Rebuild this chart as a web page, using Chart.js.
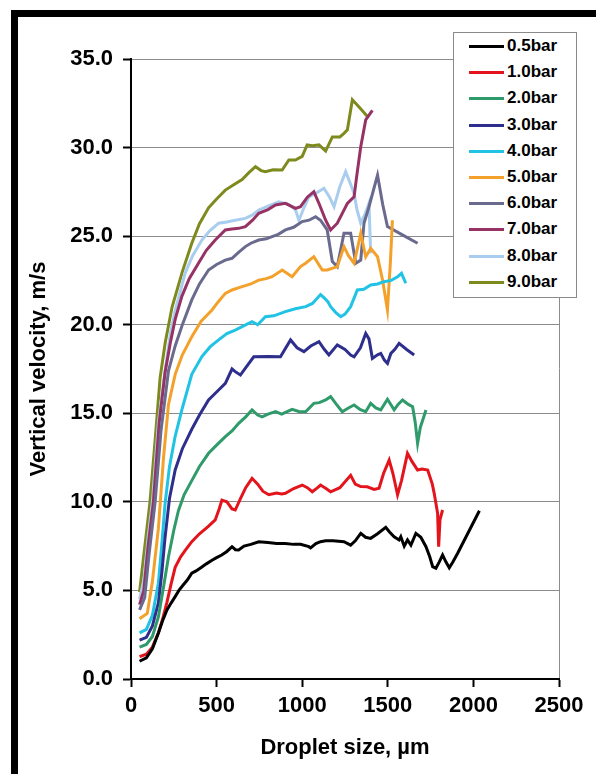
<!DOCTYPE html>
<html>
<head>
<meta charset="utf-8">
<script src="https://cdn.jsdelivr.net/npm/chart.js@4.4.1/dist/chart.umd.min.js"></script>
<style>
  html, body { margin: 0; padding: 0; background: #fff; width: 596px; height: 774px; overflow: hidden; }
  #frame { position: absolute; left: 11px; top: 10px; width: 700px; height: 900px; border: 7px solid #000; box-sizing: border-box; }
  #chart { position: absolute; left: 0; top: 0; z-index: 1; }
  #legend { position: absolute; left: 453px; top: 32px; width: 124px; height: 266px; box-sizing: border-box;
            border: 1px solid #8a8a8a; background: #fff; z-index: 2;
            font: bold 17px "Liberation Sans", Arial, sans-serif; color: #000; }
  .row { position: absolute; left: 0; height: 20px; line-height: 20px; }
  .sw { position: absolute; left: 15px; top: 9px; width: 35px; height: 3px; }
  .tx { position: absolute; left: 53px; top: 0; white-space: nowrap; }
</style>
</head>
<body>
<div id="frame"></div>
<canvas id="chart" width="596" height="774"></canvas>
<div id="legend"></div>
<script>
// Pressure levels shown in the legend
const labels = ['0.5bar', '1.0bar', '2.0bar', '3.0bar', '4.0bar', '5.0bar', '6.0bar', '7.0bar', '8.0bar', '9.0bar'];
const colors = ['#000000', '#e3141c', '#2f9a6a', '#2e2f8c', '#21c3e4', '#f3a12b', '#696a8e', '#963264', '#a9cdef', '#7e8a1e'];

// Axis ticks
const xTicks = [0, 500, 1000, 1500, 2000, 2500];
const yTicks = [0, 5, 10, 15, 20, 25, 30, 35];

// Droplet size (µm) and vertical velocity (m/s) for each pressure
const size05 = [50, 90, 125, 160, 185, 210, 235, 258, 280, 300, 330, 355, 380, 410, 440, 473, 500, 530, 560, 590, 610, 629, 660, 700, 746, 800, 850, 900, 950, 990, 1039, 1049, 1080, 1107, 1137, 1180, 1244, 1283, 1310, 1342, 1370, 1400, 1440, 1488, 1510, 1537, 1566, 1576, 1596, 1615, 1635, 1664, 1693, 1723, 1745, 1762, 1781, 1800, 1820, 1840, 1859, 1880, 1908, 2035];
const vel05  = [1.0, 1.2, 1.7, 2.6, 3.3, 3.9, 4.3, 4.65, 5.0, 5.25, 5.6, 5.97, 6.1, 6.3, 6.5, 6.7, 6.85, 7.0, 7.2, 7.47, 7.3, 7.28, 7.5, 7.6, 7.75, 7.7, 7.65, 7.65, 7.6, 7.6, 7.47, 7.4, 7.65, 7.75, 7.8, 7.8, 7.75, 7.56, 7.8, 8.22, 8.0, 7.94, 8.2, 8.56, 8.3, 8.03, 7.85, 8.03, 7.5, 7.85, 7.56, 8.22, 8.0, 7.47, 6.9, 6.34, 6.25, 6.6, 7.0, 6.6, 6.28, 6.6, 7.1, 9.5];

const size10 = [50, 90, 125, 160, 185, 209, 235, 258, 290, 320, 355, 400, 450, 492, 515, 531, 560, 590, 609, 640, 670, 707, 740, 770, 805, 850, 880, 902, 950, 1000, 1030, 1059, 1090, 1107, 1137, 1166, 1220, 1283, 1310, 1342, 1380, 1420, 1449, 1475, 1508, 1530, 1557, 1580, 1615, 1640, 1674, 1700, 1733, 1760, 1771, 1791, 1797, 1805, 1820];
const vel10  = [1.26, 1.4, 1.8, 2.6, 3.4, 4.3, 5.4, 6.3, 6.9, 7.3, 7.75, 8.2, 8.6, 8.98, 9.6, 10.1, 10.0, 9.6, 9.54, 10.2, 10.8, 11.33, 11.0, 10.6, 10.4, 10.5, 10.45, 10.48, 10.75, 10.95, 10.8, 10.57, 10.8, 10.95, 10.77, 10.57, 10.8, 11.5, 11.0, 10.86, 10.85, 10.7, 10.77, 11.6, 12.36, 11.6, 10.4, 11.2, 12.74, 12.3, 11.8, 11.85, 11.8, 11.0, 10.48, 9.35, 7.47, 9.0, 9.54];

const size20 = [50, 90, 125, 160, 190, 219, 250, 277, 310, 355, 400, 453, 500, 551, 590, 629, 670, 707, 740, 766, 800, 844, 880, 941, 980, 1020, 1068, 1100, 1137, 1166, 1200, 1234, 1270, 1303, 1340, 1371, 1400, 1430, 1459, 1498, 1537, 1560, 1586, 1620, 1645, 1660, 1674, 1690, 1723];
const vel20  = [1.8, 1.95, 2.4, 3.5, 5.2, 6.9, 8.4, 9.5, 10.4, 11.2, 12.0, 12.74, 13.2, 13.68, 14.0, 14.43, 14.8, 15.19, 14.9, 14.8, 14.95, 15.09, 14.95, 15.22, 15.1, 15.09, 15.56, 15.6, 15.75, 15.94, 15.5, 15.09, 15.3, 15.47, 15.2, 15.09, 15.56, 15.3, 15.19, 15.79, 15.19, 15.5, 15.75, 15.5, 15.37, 14.5, 13.3, 14.2, 15.19];

const size30 = [50, 90, 125, 160, 180, 199, 225, 258, 300, 355, 400, 453, 500, 551, 590, 609, 639, 680, 717, 800, 873, 932, 970, 1010, 1050, 1098, 1130, 1156, 1205, 1250, 1283, 1303, 1340, 1371, 1390, 1410, 1440, 1459, 1480, 1498, 1518, 1540, 1566, 1610, 1654];
const vel30  = [2.2, 2.35, 3.0, 4.3, 6.0, 8.0, 10.2, 11.8, 13.0, 14.1, 14.9, 15.75, 16.2, 16.69, 17.5, 17.35, 17.16, 17.7, 18.19, 18.2, 18.19, 19.14, 18.7, 18.48, 18.8, 19.04, 18.6, 18.29, 18.86, 18.6, 18.29, 18.19, 18.7, 19.51, 19.2, 18.1, 18.3, 18.38, 18.0, 17.82, 18.38, 18.6, 18.95, 18.6, 18.29];

const size40 = [50, 90, 125, 160, 180, 199, 225, 258, 300, 355, 414, 463, 512, 560, 609, 649, 707, 740, 785, 834, 902, 960, 1020, 1060, 1107, 1130, 1150, 1166, 1195, 1225, 1250, 1283, 1322, 1360, 1400, 1440, 1478, 1520, 1557, 1580, 1605];
const vel40  = [2.6, 2.8, 3.6, 5.4, 7.6, 9.9, 12.0, 13.7, 15.3, 17.2, 18.2, 18.76, 19.14, 19.5, 19.7, 19.89, 20.17, 20.0, 20.45, 20.5, 20.74, 20.9, 21.02, 21.2, 21.7, 21.5, 21.3, 21.02, 20.7, 20.45, 20.6, 21.02, 21.96, 22.0, 22.24, 22.3, 22.43, 22.5, 22.7, 22.9, 22.34];

const size50 = [50, 95, 125, 160, 190, 219, 258, 300, 355, 410, 473, 510, 551, 590, 649, 700, 746, 790, 824, 883, 941, 990, 1020, 1068, 1117, 1146, 1205, 1244, 1270, 1303, 1342, 1371, 1400, 1440, 1470, 1498, 1515, 1527];
const vel50  = [3.4, 3.7, 5.5, 8.5, 12.5, 15.5, 17.2, 18.3, 19.32, 20.2, 20.83, 21.3, 21.77, 21.96, 22.15, 22.3, 22.52, 22.6, 22.71, 23.09, 22.71, 23.28, 23.47, 23.84, 23.09, 23.09, 23.28, 24.41, 23.9, 23.47, 25.16, 23.84, 24.31, 23.84, 22.5, 20.83, 23.5, 25.9];

const size60 = [50, 80, 105, 141, 175, 219, 258, 300, 355, 400, 453, 500, 551, 590, 630, 668, 700, 746, 790, 824, 860, 902, 950, 1000, 1040, 1078, 1107, 1146, 1176, 1205, 1244, 1283, 1313, 1342, 1361, 1390, 1440, 1470, 1498, 1580, 1674];
const vel60  = [3.9, 4.6, 7.0, 10.0, 14.0, 17.4, 18.8, 20.0, 21.4, 22.3, 23.09, 23.4, 23.65, 23.75, 24.1, 24.41, 24.6, 24.78, 24.85, 24.97, 25.1, 25.35, 25.5, 25.82, 25.9, 26.1, 25.9, 25.35, 23.56, 23.28, 25.16, 25.16, 23.47, 23.65, 25.73, 26.66, 28.45, 26.8, 25.54, 25.1, 24.6];

const size70 = [50, 75, 100, 131, 165, 199, 230, 258, 297, 340, 394, 440, 492, 551, 590, 629, 668, 710, 746, 800, 844, 902, 961, 990, 1030, 1068, 1100, 1137, 1166, 1205, 1264, 1303, 1320, 1342, 1371, 1410];
const vel70  = [4.2, 5.0, 7.5, 10.0, 14.5, 17.3, 19.0, 20.3, 21.6, 22.6, 23.47, 24.2, 24.78, 25.35, 25.4, 25.44, 25.54, 25.9, 26.29, 26.5, 26.76, 26.85, 26.57, 26.66, 27.2, 27.51, 26.8, 25.9, 25.35, 25.73, 26.85, 27.22, 28.5, 30.05, 31.56, 32.1];

const size80 = [50, 75, 100, 125, 160, 199, 230, 258, 316, 360, 414, 460, 512, 560, 609, 668, 710, 746, 800, 863, 920, 960, 981, 1010, 1039, 1078, 1127, 1160, 1186, 1220, 1254, 1280, 1303, 1320, 1342, 1370, 1390, 1400];
const vel80  = [4.5, 5.6, 8.0, 10.0, 14.5, 17.4, 19.5, 20.8, 22.9, 23.9, 24.78, 25.3, 25.73, 25.8, 25.9, 26.0, 26.2, 26.48, 26.7, 26.94, 26.8, 26.5, 25.9, 26.6, 27.22, 27.41, 27.7, 27.2, 26.66, 27.8, 28.64, 28.0, 27.41, 26.5, 25.73, 26.3, 26.85, 24.03];

const size90 = [50, 75, 111, 141, 170, 200, 240, 300, 355, 400, 453, 500, 551, 600, 649, 690, 727, 760, 785, 830, 883, 922, 960, 1000, 1029, 1060, 1098, 1137, 1176, 1220, 1244, 1264, 1293, 1340, 1381];
const vel90  = [4.9, 7.0, 10.0, 13.5, 17.0, 19.0, 21.0, 23.0, 24.6, 25.7, 26.6, 27.1, 27.6, 27.9, 28.2, 28.6, 28.92, 28.7, 28.64, 28.75, 28.73, 29.3, 29.3, 29.5, 30.15, 30.1, 30.15, 29.8, 30.6, 30.6, 30.8, 31.0, 32.7, 32.2, 31.75];

const sizes = [size05, size10, size20, size30, size40, size50, size60, size70, size80, size90];
const vels  = [vel05, vel10, vel20, vel30, vel40, vel50, vel60, vel70, vel80, vel90];

const datasets = labels.map((label, k) => ({
  label,
  data: sizes[k].map((x, i) => ({ x, y: vels[k][i] })),
  borderColor: colors[k],
  backgroundColor: colors[k],
  borderWidth: 3,
  pointRadius: 0,
  fill: false,
  tension: 0
}));

const tickFont = { family: '"Liberation Sans", Arial, sans-serif', size: 22, weight: 'bold' };

new Chart(document.getElementById('chart'), {
  type: 'line',
  data: { datasets },
  options: {
    responsive: false,
    animation: false,
    devicePixelRatio: 1,
    layout: { padding: { left: 22, top: 59, right: 37, bottom: 10 } },
    plugins: { legend: { display: false }, tooltip: { enabled: false } },
    scales: {
      x: {
        type: 'linear',
        min: xTicks[0],
        max: xTicks[xTicks.length - 1],
        afterBuildTicks: s => { s.ticks = xTicks.map(v => ({ value: v })); },
        afterFit: s => { s.height = 85; },
        ticks: { color: '#000', font: tickFont, padding: 6, maxRotation: 0, callback: v => String(v) },
        grid: {
          color: c => (c.tick && c.tick.value === 2500) ? '#8c8c8c' : 'rgba(0,0,0,0)',
          lineWidth: 1,
          tickColor: '#000',
          tickLength: 8,
          tickWidth: 2
        },
        border: { color: '#000', width: 2 },
        title: { display: true, text: 'Droplet size, µm', color: '#000', font: tickFont, padding: { top: 0, bottom: 3 } }
      },
      y: {
        min: yTicks[0],
        max: yTicks[yTicks.length - 1],
        afterBuildTicks: s => { s.ticks = yTicks.map(v => ({ value: v })); },
        afterFit: s => { s.width = 109; },
        ticks: { color: '#000', font: tickFont, padding: 10, callback: v => Number(v).toFixed(1) },
        grid: {
          color: '#8c8c8c',
          lineWidth: 1,
          tickColor: '#000',
          tickLength: 8,
          tickWidth: 2
        },
        border: { color: '#000', width: 2 },
        title: { display: true, text: 'Vertical velocity, m/s', color: '#000', font: tickFont, padding: { top: 4, bottom: 0 } }
      }
    }
  }
});

// Boxed legend in the upper right corner
const legend = document.getElementById('legend');
labels.forEach((label, k) => {
  const row = document.createElement('div');
  row.className = 'row';
  row.style.top = (3 + 26.2 * k) + 'px';
  row.innerHTML = '<span class="sw" style="background:' + colors[k] + '"></span><span class="tx">' + label + '</span>';
  legend.appendChild(row);
});
</script>
</body>
</html>
